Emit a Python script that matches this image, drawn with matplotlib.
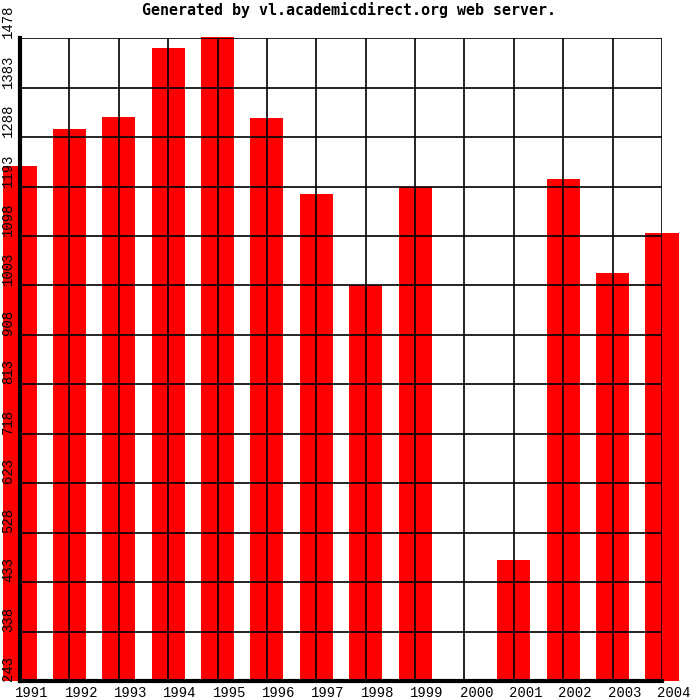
import numpy as np
import matplotlib
matplotlib.use("Agg")
import matplotlib.pyplot as plt
import matplotlib.transforms as mtransforms

# data
years = ['1991', '1992', '1993', '1994', '1995', '1996', '1997',
         '1998', '1999', '2000', '2001', '2002', '2003', '2004']
values = [1233, 1304, 1327, 1459, 1481, 1325, 1179,
          1004, 1193, 0, 476, 1208, 1027, 1104]
y_ticks = [243, 338, 433, 528, 623, 718, 813, 908, 1003, 1098, 1193, 1288, 1383, 1478]

ymin, ymax = y_ticks[0], y_ticks[-1]

fig = plt.figure(figsize=(7, 7), dpi=100)
ax = fig.add_axes([20 / 700, 19 / 700, 642 / 700, 642.7 / 700])

x = np.arange(len(years))
heights = np.clip(np.array(values, dtype=float) - ymin, 0, None)
ax.bar(x, heights, bottom=ymin, width=0.67, color='#ff0000',
       linewidth=0, clip_on=False, zorder=1)

ax.set_xlim(0, len(years) - 1)
ax.set_ylim(ymin, ymax)

# grid drawn over the bars
for yv in y_ticks[1:]:
    ax.axhline(yv, color='black', linewidth=1.2, zorder=3)
for xv in x[1:]:
    ax.axvline(xv, color='black', linewidth=1.2, zorder=3)

for s in ['top', 'right']:
    ax.spines[s].set_visible(False)
ax.spines['left'].set_linewidth(3)
ax.spines['bottom'].set_linewidth(3)
ax.spines['left'].set_zorder(4)
ax.spines['bottom'].set_zorder(4)
ax.set_xticks([])
ax.set_yticks([])

mono = 'Liberation Mono'

# y labels, rotated, starting at the grid line
ytr = mtransforms.blended_transform_factory(fig.transFigure, ax.transData)
for yv in y_ticks:
    ax.text(1 / 700, yv, str(yv), transform=ytr, rotation=90,
            ha='left', va='bottom', fontsize=10, family=mono, clip_on=False)

# x labels, shifted right of the bar centres
for i, lab in enumerate(years):
    ax.text(i + 0.24, ymin, lab, ha='center', va='top', fontsize=10,
            family=mono, clip_on=False,
            transform=ax.transData + mtransforms.ScaledTranslation(0, -5 / 100, fig.dpi_scale_trans))

fig.text(349 / 700, 1 - 9.5 / 700, 'Generated by vl.academicdirect.org web server.',
         ha='center', va='center', fontsize=10.8, family='DejaVu Sans Mono',
         fontweight='bold')

fig.savefig('out.png', dpi=100)
